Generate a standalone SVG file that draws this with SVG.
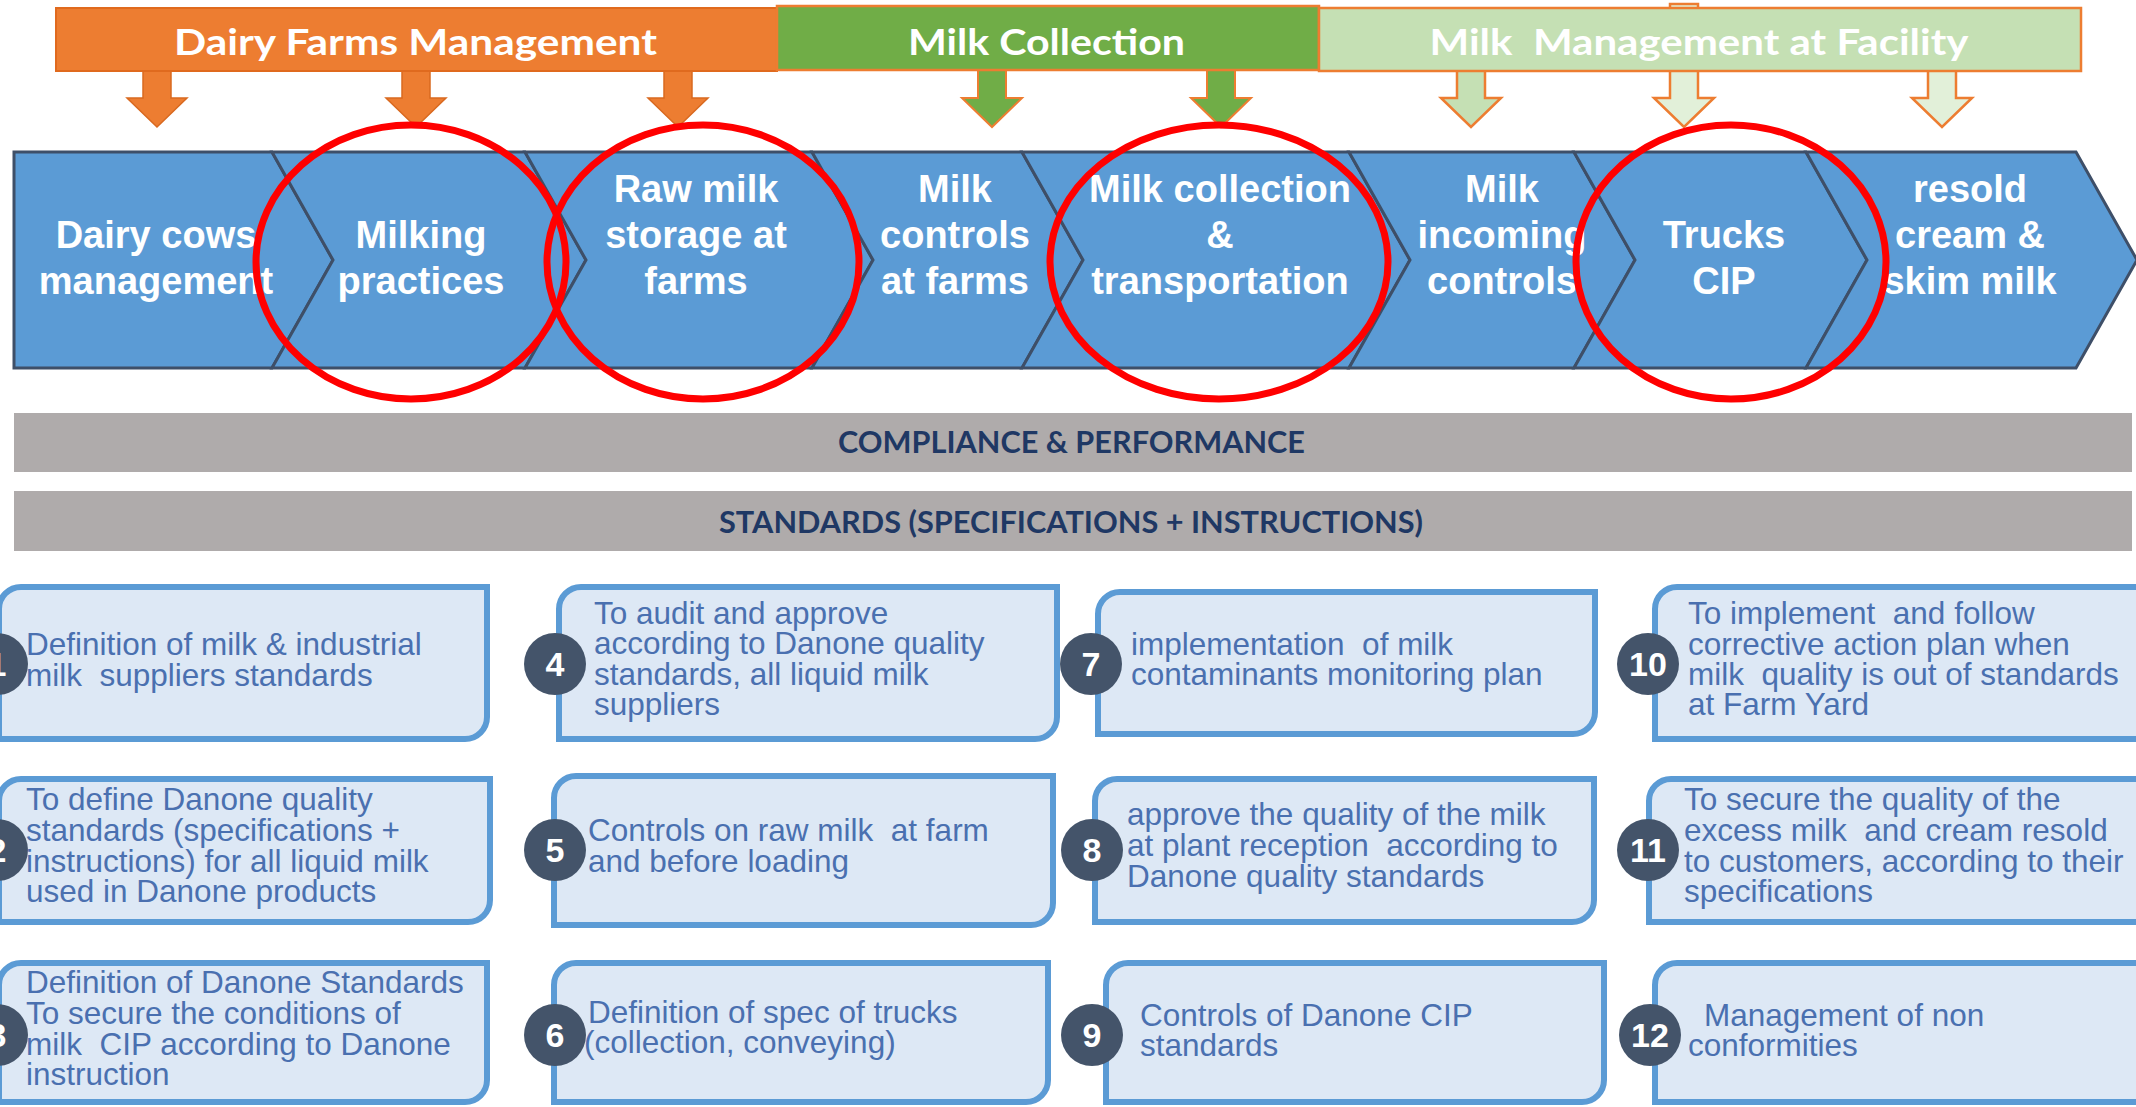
<svg xmlns="http://www.w3.org/2000/svg" width="2136" height="1107" viewBox="0 0 2136 1107">
  <style>
    text { white-space: pre; }
    .hdr-txt { font-family: Lato, "Open Sans", sans-serif; font-weight: 700; font-size: 37px; fill: #ffffff; text-anchor: middle; }
    .band-txt { font-family: Lato, "Open Sans", sans-serif; font-weight: 700; font-size: 30px; fill: #1F3864; text-anchor: middle; }
    .chev { fill: #5B9BD5; stroke: #3E4F68; stroke-width: 3; stroke-linejoin: miter; }
    .chev-txt { font-family: "Liberation Sans", Arial, sans-serif; font-weight: 700; font-size: 38px; fill: #ffffff; text-anchor: middle; }
    .box { fill: #DDE8F5; stroke: #5B9BD5; stroke-width: 6; }
    .box-txt { font-family: "Liberation Sans", Arial, sans-serif; font-size: 31.5px; fill: #4A70B0; }
    .badge { fill: #44546A; }
    .badge-txt { font-family: "Liberation Sans", Arial, sans-serif; font-weight: 700; font-size: 34px; fill: #ffffff; text-anchor: middle; }
    .gray { fill: #AFABAB; }
    .arr-o { fill: #ED7D31; stroke: #D9691F; stroke-width: 1.5; }
    .arr-g { fill: #70AD47; stroke: #ED7D31; stroke-width: 2; }
    .arr-l { fill: #C5E0B4; stroke: #ED7D31; stroke-width: 2.5; }
    .arr-p { fill: #E2F0D9; stroke: #ED7D31; stroke-width: 2.5; }
    .ring { fill: none; stroke: #FF0000; stroke-width: 7; }
  </style>

  <!-- phase arrows pointing down to the value-chain steps -->
  <g id="connectors">
    <polygon class="arr-o" points="143,68 171,68 171,98 187,98 157,127 127,98 143,98"/>
    <polygon class="arr-o" points="402,68 430,68 430,98 446,98 416,127 386,98 402,98"/>
    <polygon class="arr-o" points="664,68 692,68 692,98 708,98 678,127 648,98 664,98"/>
    <polygon class="arr-g" points="978,68 1006,68 1006,98 1022,98 992,127 962,98 978,98"/>
    <polygon class="arr-g" points="1207,68 1235,68 1235,98 1251,98 1221,127 1191,98 1207,98"/>
    <polygon class="arr-l" points="1457,68 1485,68 1485,98 1501,98 1471,127 1441,98 1457,98"/>
    <polygon class="arr-p" points="1670,4 1698,4 1698,98 1714,98 1684,127 1654,98 1670,98"/>
    <polygon class="arr-p" points="1928,68 1956,68 1956,98 1972,98 1942,127 1912,98 1928,98"/>
  </g>

  <!-- phase headers -->
  <g id="phase-dairy-farms">
    <rect x="56" y="8" width="721" height="63" fill="#ED7D31" stroke="#E06A1E" stroke-width="2"/>
    <text class="hdr-txt" x="415.5" y="55" textLength="483" lengthAdjust="spacingAndGlyphs">Dairy Farms Management</text>
  </g>
  <g id="phase-milk-collection">
    <rect x="777" y="6" width="542" height="64" fill="#70AD47" stroke="#ED7D31" stroke-width="2.5"/>
    <text class="hdr-txt" x="1046.5" y="55" textLength="277" lengthAdjust="spacingAndGlyphs">Milk Collection</text>
  </g>
  <g id="phase-facility">
    <rect x="1319" y="8" width="762" height="63" fill="#C5E0B4" stroke="#ED7D31" stroke-width="2.5"/>
    <text class="hdr-txt" x="1699" y="55" textLength="539" lengthAdjust="spacingAndGlyphs">Milk  Management at Facility</text>
  </g>

  <!-- value chain chevrons -->
  <g id="step-dairy-cows">
    <polygon class="chev" points="14,152 272,152 333,260 272,368 14,368"/>
    <text class="chev-txt" x="156" y="248">Dairy cows</text>
    <text class="chev-txt" x="156" y="294">management</text>
  </g>
  <g id="step-milking">
    <polygon class="chev" points="272,152 525,152 586,260 525,368 272,368 333,260"/>
    <text class="chev-txt" x="421" y="248">Milking</text>
    <text class="chev-txt" x="421" y="294">practices</text>
  </g>
  <g id="step-raw-storage">
    <polygon class="chev" points="525,152 812,152 873,260 812,368 525,368 586,260"/>
    <text class="chev-txt" x="696" y="202">Raw milk</text>
    <text class="chev-txt" x="696" y="248">storage at</text>
    <text class="chev-txt" x="696" y="294">farms</text>
  </g>
  <g id="step-farm-controls">
    <polygon class="chev" points="812,152 1022,152 1083,260 1022,368 812,368 873,260"/>
    <text class="chev-txt" x="955" y="202">Milk</text>
    <text class="chev-txt" x="955" y="248">controls</text>
    <text class="chev-txt" x="955" y="294">at farms</text>
  </g>
  <g id="step-collection">
    <polygon class="chev" points="1022,152 1349,152 1410,260 1349,368 1022,368 1083,260"/>
    <text class="chev-txt" x="1220" y="202">Milk collection</text>
    <text class="chev-txt" x="1220" y="248">&amp;</text>
    <text class="chev-txt" x="1220" y="294">transportation</text>
  </g>
  <g id="step-incoming">
    <polygon class="chev" points="1349,152 1574,152 1635,260 1574,368 1349,368 1410,260"/>
    <text class="chev-txt" x="1502" y="202">Milk</text>
    <text class="chev-txt" x="1502" y="248">incoming</text>
    <text class="chev-txt" x="1502" y="294">controls</text>
  </g>
  <g id="step-trucks-cip">
    <polygon class="chev" points="1574,152 1806,152 1867,260 1806,368 1574,368 1635,260"/>
    <text class="chev-txt" x="1724" y="248">Trucks</text>
    <text class="chev-txt" x="1724" y="294">CIP</text>
  </g>
  <g id="step-resold">
    <polygon class="chev" points="1806,152 2076,152 2137,260 2076,368 1806,368 1867,260"/>
    <text class="chev-txt" x="1970" y="202">resold</text>
    <text class="chev-txt" x="1970" y="248">cream &amp;</text>
    <text class="chev-txt" x="1970" y="294">skim milk</text>
  </g>

  <!-- highlighted steps -->
  <g id="highlights">
    <ellipse class="ring" cx="411" cy="262" rx="155" ry="137"/>
    <ellipse class="ring" cx="703" cy="262" rx="156" ry="137"/>
    <ellipse class="ring" cx="1219" cy="262" rx="169" ry="137"/>
    <ellipse class="ring" cx="1731" cy="262" rx="155" ry="137"/>
  </g>

  <!-- horizontal bands -->
  <g id="band-compliance">
    <rect class="gray" x="14" y="413" width="2118" height="59"/>
    <text class="band-txt" x="1071.5" y="453" textLength="467" lengthAdjust="spacingAndGlyphs">COMPLIANCE &amp; PERFORMANCE</text>
  </g>
  <g id="band-standards">
    <rect class="gray" x="14" y="491" width="2118" height="60"/>
    <text class="band-txt" x="1071" y="533" textLength="704" lengthAdjust="spacingAndGlyphs">STANDARDS (SPECIFICATIONS + INSTRUCTIONS)</text>
  </g>

  <!-- requirement cards: column 1 -->
  <g id="card-1">
    <path class="box" d="M21,587 H487 V717 A22,22 0 0 1 465,739 H-1 V609 A22,22 0 0 1 21,587 Z"/>
    <circle class="badge" cx="-3" cy="664" r="31"/>
    <text class="badge-txt" x="-3" y="676">1</text>
    <text class="box-txt" x="26" y="655">Definition of milk &amp; industrial</text>
    <text class="box-txt" x="26" y="686">milk  suppliers standards</text>
  </g>
  <g id="card-2">
    <path class="box" d="M21,779 H490 V900 A22,22 0 0 1 468,922 H-1 V801 A22,22 0 0 1 21,779 Z"/>
    <circle class="badge" cx="-3" cy="850" r="31"/>
    <text class="badge-txt" x="-3" y="862">2</text>
    <text class="box-txt" x="26" y="810">To define Danone quality</text>
    <text class="box-txt" x="26" y="841">standards (specifications +</text>
    <text class="box-txt" x="26" y="872">instructions) for all liquid milk</text>
    <text class="box-txt" x="26" y="902">used in Danone products</text>
  </g>
  <g id="card-3">
    <path class="box" d="M21,963 H487 V1080 A22,22 0 0 1 465,1102 H-1 V985 A22,22 0 0 1 21,963 Z"/>
    <circle class="badge" cx="-3" cy="1035" r="31"/>
    <text class="badge-txt" x="-3" y="1047">3</text>
    <text class="box-txt" x="26" y="993">Definition of Danone Standards</text>
    <text class="box-txt" x="26" y="1024">To secure the conditions of</text>
    <text class="box-txt" x="26" y="1055">milk  CIP according to Danone</text>
    <text class="box-txt" x="26" y="1085">instruction</text>
  </g>

  <!-- column 2 -->
  <g id="card-4">
    <path class="box" d="M581,587 H1057 V717 A22,22 0 0 1 1035,739 H559 V609 A22,22 0 0 1 581,587 Z"/>
    <circle class="badge" cx="555" cy="664" r="31"/>
    <text class="badge-txt" x="555" y="676">4</text>
    <text class="box-txt" x="594" y="624">To audit and approve</text>
    <text class="box-txt" x="594" y="654">according to Danone quality</text>
    <text class="box-txt" x="594" y="685">standards, all liquid milk</text>
    <text class="box-txt" x="594" y="715">suppliers</text>
  </g>
  <g id="card-5">
    <path class="box" d="M576,776 H1053 V903 A22,22 0 0 1 1031,925 H554 V798 A22,22 0 0 1 576,776 Z"/>
    <circle class="badge" cx="555" cy="850" r="31"/>
    <text class="badge-txt" x="555" y="862">5</text>
    <text class="box-txt" x="588" y="841">Controls on raw milk  at farm</text>
    <text class="box-txt" x="588" y="872">and before loading</text>
  </g>
  <g id="card-6">
    <path class="box" d="M576,963 H1048 V1080 A22,22 0 0 1 1026,1102 H554 V985 A22,22 0 0 1 576,963 Z"/>
    <circle class="badge" cx="555" cy="1035" r="31"/>
    <text class="badge-txt" x="555" y="1047">6</text>
    <text class="box-txt" x="588" y="1023">Definition of spec of trucks</text>
    <text class="box-txt" x="584" y="1053">(collection, conveying)</text>
  </g>

  <!-- column 3 -->
  <g id="card-7">
    <path class="box" d="M1120,592 H1595 V712 A22,22 0 0 1 1573,734 H1098 V614 A22,22 0 0 1 1120,592 Z"/>
    <circle class="badge" cx="1091" cy="664" r="31"/>
    <text class="badge-txt" x="1091" y="676">7</text>
    <text class="box-txt" x="1131" y="655">implementation  of milk</text>
    <text class="box-txt" x="1131" y="685">contaminants monitoring plan</text>
  </g>
  <g id="card-8">
    <path class="box" d="M1117,779 H1594 V900 A22,22 0 0 1 1572,922 H1095 V801 A22,22 0 0 1 1117,779 Z"/>
    <circle class="badge" cx="1092" cy="850" r="31"/>
    <text class="badge-txt" x="1092" y="862">8</text>
    <text class="box-txt" x="1127" y="825">approve the quality of the milk</text>
    <text class="box-txt" x="1127" y="856">at plant reception  according to</text>
    <text class="box-txt" x="1127" y="887">Danone quality standards</text>
  </g>
  <g id="card-9">
    <path class="box" d="M1128,963 H1604 V1080 A22,22 0 0 1 1582,1102 H1106 V985 A22,22 0 0 1 1128,963 Z"/>
    <circle class="badge" cx="1092" cy="1035" r="31"/>
    <text class="badge-txt" x="1092" y="1047">9</text>
    <text class="box-txt" x="1140" y="1026">Controls of Danone CIP</text>
    <text class="box-txt" x="1140" y="1056">standards</text>
  </g>

  <!-- column 4 -->
  <g id="card-10">
    <path class="box" d="M1677,587 H2160 V717 A22,22 0 0 1 2138,739 H1655 V609 A22,22 0 0 1 1677,587 Z"/>
    <circle class="badge" cx="1648" cy="664" r="31"/>
    <text class="badge-txt" x="1648" y="676">10</text>
    <text class="box-txt" x="1688" y="624">To implement  and follow</text>
    <text class="box-txt" x="1688" y="655">corrective action plan when</text>
    <text class="box-txt" x="1688" y="685">milk  quality is out of standards</text>
    <text class="box-txt" x="1688" y="715">at Farm Yard</text>
  </g>
  <g id="card-11">
    <path class="box" d="M1671,779 H2160 V900 A22,22 0 0 1 2138,922 H1649 V801 A22,22 0 0 1 1671,779 Z"/>
    <circle class="badge" cx="1648" cy="850" r="31"/>
    <text class="badge-txt" x="1648" y="862">11</text>
    <text class="box-txt" x="1684" y="810">To secure the quality of the</text>
    <text class="box-txt" x="1684" y="841">excess milk  and cream resold</text>
    <text class="box-txt" x="1684" y="872">to customers, according to their</text>
    <text class="box-txt" x="1684" y="902">specifications</text>
  </g>
  <g id="card-12">
    <path class="box" d="M1677,963 H2160 V1080 A22,22 0 0 1 2138,1102 H1655 V985 A22,22 0 0 1 1677,963 Z"/>
    <circle class="badge" cx="1650" cy="1035" r="31"/>
    <text class="badge-txt" x="1650" y="1047">12</text>
    <text class="box-txt" x="1704" y="1026">Management of non</text>
    <text class="box-txt" x="1688" y="1056">conformities</text>
  </g>
</svg>
